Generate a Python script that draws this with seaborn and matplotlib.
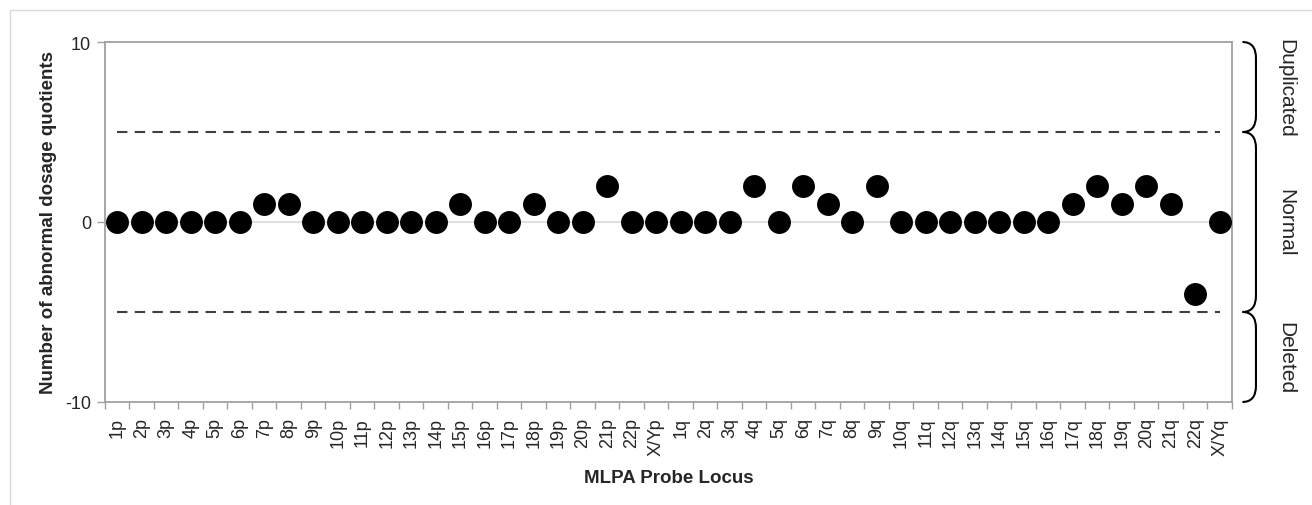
import numpy as np
import pandas as pd
import matplotlib
matplotlib.use("Agg")
import matplotlib.pyplot as plt
from matplotlib.path import Path
from matplotlib.patches import PathPatch
from matplotlib.lines import Line2D
import matplotlib.transforms as mtransforms
import seaborn as sns

# MLPA probe loci: p arms then q arms
p_loci = [f"{i}p" for i in range(1, 23)] + ["X/Yp"]
q_loci = [f"{i}q" for i in range(1, 23)] + ["X/Yq"]
loci = p_loci + q_loci

p_counts = [0, 0, 0, 0, 0, 0, 1, 1, 0, 0, 0, 0, 0, 0, 1, 0, 0, 1, 0, 0, 2, 0, 0]
q_counts = [0, 0, 0, 2, 0, 2, 1, 0, 2, 0, 0, 0, 0, 0, 0, 0, 1, 2, 1, 2, 1, -4, 0]
counts = p_counts + q_counts

thresholds = [5, -5]
regions = ["Duplicated", "Normal", "Deleted"]
region_bounds = [(5, 10), (-5, 5), (-10, -5)]

df = pd.DataFrame({"locus": loci, "count": counts})

sns.set_style("white")
plt.rcParams["font.family"] = ["Liberation Sans", "DejaVu Sans"]
plt.rcParams["axes.unicode_minus"] = False

fig = plt.figure(figsize=(13.12, 5.06), dpi=100)
ax = fig.add_axes([0.080, 0.2036, 0.859, 0.7114])

# light frame around the figure (top and left only, as in the source)
fig.add_artist(Line2D([10 / 1312, 1.0], [1 - 11 / 506] * 2, transform=fig.transFigure,
                      color="#d9d9d9", lw=1))
fig.add_artist(Line2D([10 / 1312] * 2, [0.0, 1 - 11 / 506], transform=fig.transFigure,
                      color="#d9d9d9", lw=1))

ax.axhline(0, color="#d9d9d9", lw=1.2, zorder=0)
for t in thresholds:
    ax.plot([0, len(loci) - 1], [t, t], color="#404040", lw=1.5,
            dashes=(5, 3.5), zorder=1)

sns.stripplot(data=df, x="locus", y="count", order=loci, jitter=False,
              color="black", size=16.5, linewidth=0, ax=ax, zorder=3)

ax.set_xlim(-0.5, len(loci) - 0.5)
ax.set_ylim(-10, 10)
ax.set_yticks([-10, 0, 10])
ax.set_xticks(np.arange(len(loci)))
ax.set_xticklabels(loci, rotation=90)
ax.set_xticks(np.arange(len(loci) + 1) - 0.5, minor=True)
ax.tick_params(axis="x", which="major", length=0, pad=11, labelsize=13)
ax.tick_params(axis="x", which="minor", length=5, color="#a0a0a0", width=1, bottom=True)
ax.tick_params(axis="y", length=6, color="#a0a0a0", width=1, left=True, labelsize=13, pad=4)

for s in ax.spines.values():
    s.set_color("#a0a0a0")
    s.set_linewidth(1.3)

ax.set_xlabel("MLPA Probe Locus", fontsize=13.5, fontweight="bold", labelpad=10)
ax.set_ylabel("Number of abnormal dosage quotients", fontsize=13.5, fontweight="bold", labelpad=6)

# right-hand brackets marking the three regions
trans = mtransforms.blended_transform_factory(ax.transAxes, ax.transData)
x0, x1 = 1.0093, 1.0213
d = 0.9
for (lo, hi), name in zip(region_bounds, regions):
    verts = [(x0, hi), (x1, hi), (x1, hi - d), (x1, lo + d), (x1, lo), (x0, lo)]
    codes = [Path.MOVETO, Path.CURVE3, Path.CURVE3, Path.LINETO,
             Path.CURVE3, Path.CURVE3]
    patch = PathPatch(Path(verts, codes), transform=trans, fill=False,
                      edgecolor="black", lw=1.5, clip_on=False)
    ax.add_patch(patch)
    ax.text(1.048, (lo + hi) / 2, name, transform=trans, rotation=270,
            ha="center", va="center", fontsize=15)

fig.savefig("out.png", dpi=100)
